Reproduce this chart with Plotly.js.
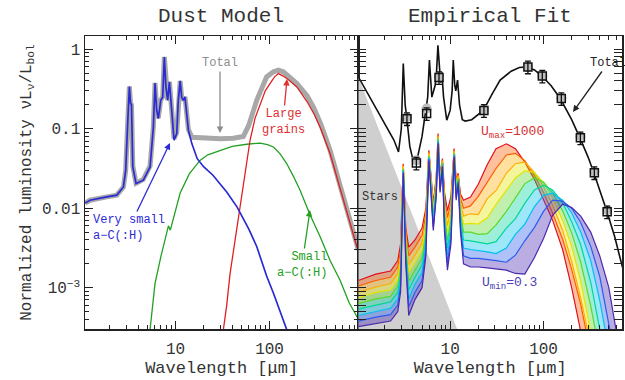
<!DOCTYPE html>
<html><head><meta charset="utf-8">
<script src="https://cdn.plot.ly/plotly-3.0.1.min.js"></script>
<style>html,body{margin:0;padding:0;background:#fff}#chart{width:625px;height:380px}</style>
</head><body><div id="chart"></div>
<script>
// ===== Left panel: Dust Model (wavelength in micron, normalized luminosity) =====
const TOTAL_WAVE = [1.09, 1.23, 1.8, 2.37, 2.79, 2.95, 3.1, 3.23, 3.32, 3.4, 3.51, 3.8, 4.54, 5.36, 5.81, 6.05, 6.3, 6.56, 6.96, 7.3, 7.6, 7.9, 8.25, 8.6, 9.1, 9.64, 10.3, 10.7, 11.2, 11.6, 12.1, 12.6, 13.7, 14.9, 20, 30, 41, 52.6, 60, 73, 93, 110, 124, 140, 195, 250, 292, 350, 440, 560, 662, 847, 880];
const TOTAL_LUM = [0.0116, 0.0126, 0.0138, 0.0146, 0.0185, 0.03, 0.12, 0.34, 0.21, 0.2, 0.034, 0.0206, 0.023, 0.034, 0.106, 0.378, 0.173, 0.136, 0.23, 0.252, 0.8, 0.337, 0.23, 0.39, 0.174, 0.075, 0.09, 0.23, 0.4, 0.252, 0.23, 0.252, 0.098, 0.078, 0.076, 0.075, 0.076, 0.08, 0.11, 0.228, 0.449, 0.52, 0.545, 0.52, 0.37, 0.26, 0.188, 0.115, 0.0537, 0.02, 0.0104, 0.0036, 0.003];

const VSG_WAVE = [1.09, 1.23, 1.8, 2.37, 2.79, 2.95, 3.1, 3.23, 3.32, 3.4, 3.51, 3.8, 4.54, 5.36, 5.81, 6.05, 6.3, 6.56, 6.96, 7.3, 7.6, 7.9, 8.25, 8.6, 9.1, 9.64, 10.3, 10.7, 11.2, 11.6, 12.1, 12.6, 13.7, 14.9, 17, 20, 25, 35, 45, 60, 73, 93, 110, 130, 155];
const VSG_LUM = [0.0116, 0.0126, 0.0138, 0.0146, 0.0185, 0.03, 0.12, 0.34, 0.21, 0.2, 0.033, 0.0204, 0.0225, 0.033, 0.105, 0.377, 0.171, 0.134, 0.228, 0.25, 0.8, 0.335, 0.228, 0.388, 0.171, 0.0716, 0.087, 0.228, 0.4, 0.25, 0.228, 0.25, 0.096, 0.065, 0.042, 0.033, 0.026, 0.016, 0.0104, 0.0055, 0.0033, 0.0014, 0.00085, 0.00048, 0.00028];

const SG_WAVE = [5.36, 6.05, 7.0, 8.06, 8.4, 8.8, 9.5, 11.2, 14, 18.2, 22, 29.7, 40, 57.2, 79.3, 95, 110, 130, 152, 180, 211, 270, 344, 440, 562, 700, 847, 880];
const SG_LUM = [0.0003, 0.00113, 0.0025, 0.0048, 0.006, 0.0053, 0.0075, 0.0155, 0.027, 0.04, 0.047, 0.0537, 0.06, 0.0638, 0.066, 0.063, 0.059, 0.048, 0.0365, 0.025, 0.0168, 0.0082, 0.0044, 0.0022, 0.00124, 0.00065, 0.00043, 0.0004];

const LG_WAVE = [32.3, 35, 38, 43, 48.5, 55, 62, 70, 79.3, 90, 101, 113, 124, 140, 160, 195, 250, 300, 350, 440, 560, 700, 847, 880];
const LG_LUM = [0.0003, 0.0006, 0.0015, 0.004, 0.0104, 0.03, 0.0716, 0.135, 0.207, 0.3, 0.37, 0.45, 0.494, 0.46, 0.41, 0.336, 0.22, 0.15, 0.1, 0.0487, 0.018, 0.0075, 0.0033, 0.0028];

// ===== Right panel: Empirical Fit =====
const STAR_WAVE = [1.04, 11.9, 11.9, 1.04];
const STAR_LUM = [0.449, 3.0e-4, 1e-4, 1e-4];

const FIT_WAVE = [1.04, 1.5, 2.0, 2.5, 2.8, 3.0, 3.15, 3.3, 3.45, 3.7, 4.05, 4.5, 5.0, 5.5, 5.75, 6.0, 6.2, 6.37, 6.9, 7.1, 7.4, 7.7, 7.9, 8.15, 8.5, 9.2, 10.0, 10.5, 10.8, 11.2, 11.5, 12.0, 12.6, 13.5, 14.5, 17, 20, 22.7, 28, 34.3, 45, 55, 66, 80, 96, 120, 151, 200, 247, 300, 349, 400, 478, 580, 700];
const FIT_LUM = [0.45, 0.21, 0.114, 0.072, 0.051, 0.1, 0.66, 0.2, 0.13, 0.06, 0.038, 0.045, 0.08, 0.17, 0.25, 0.73, 0.35, 0.25, 0.35, 0.45, 1.12, 0.45, 0.38, 0.52, 0.25, 0.128, 0.17, 0.3, 0.73, 0.35, 0.3, 0.41, 0.2, 0.13, 0.125, 0.13, 0.15, 0.17, 0.27, 0.41, 0.53, 0.59, 0.6, 0.55, 0.46, 0.35, 0.24, 0.13, 0.075, 0.044, 0.027, 0.017, 0.009, 0.0043, 0.0018];

const PHOT_WAVE = [3.45, 4.35, 5.6, 7.6, 23, 68, 97, 155, 248, 350, 480];
const PHOT_LUM = [0.134, 0.037, 0.155, 0.44, 0.17, 0.6, 0.46, 0.24, 0.077, 0.028, 0.009];
const MODEL_PHOT_LUM = [0.14, 0.04, 0.18, 0.45, 0.175, 0.6, 0.46, 0.24, 0.08, 0.029, 0.0095];

// Rainbow: radiation-field components, U_max=1000 (RB_0, red) ... U_min=0.3 (RB_8, violet)
const RB_WAVE = [1.04, 1.6, 2.3, 2.75, 2.95, 3.15, 3.35, 3.6, 4.2, 5.0, 5.5, 5.92, 6.6, 7.1, 7.43, 7.8, 8.27, 8.7, 9.35, 10.2, 11.04, 11.6, 12.2, 12.9, 13.9, 16.5, 20, 25, 31, 40, 50, 63, 80, 100, 125, 160, 200, 250, 320, 400, 500, 620, 700];
const RB_0 = [1.23e-3, 1.48e-3, 1.62e-3, 2.19e-3, 3.55e-3, 3.63e-2, 5.62e-3, 3.24e-3, 3.98e-3, 5.62e-3, 1.0e-2, 5.37e-2, 1.15e-2, 2.51e-2, 8.71e-2, 2.51e-2, 4.22e-2, 1.58e-2, 9.33e-3, 1.41e-2, 5.62e-2, 2.24e-2, 2.75e-2, 1.51e-2, 1.26e-2, 1.38e-2, 2.0e-2, 3.55e-2, 5.62e-2, 6.46e-2, 5.62e-2, 3.8e-2, 2.29e-2, 1.26e-2, 7.08e-3, 3.02e-3, 1.0e-3, 2.82e-4, 7.94e-5, 2.0e-5, 5.0e-6, 1.26e-6, 6.3e-7];
const RB_1 = [1.05e-3, 1.23e-3, 1.35e-3, 1.82e-3, 2.95e-3, 3.51e-2, 4.9e-3, 2.51e-3, 3.24e-3, 4.57e-3, 8.32e-3, 5.13e-2, 1.05e-2, 2.34e-2, 8.32e-2, 2.34e-2, 4.07e-2, 1.38e-2, 7.59e-3, 1.17e-2, 5.5e-2, 2.09e-2, 2.63e-2, 1.32e-2, 1.0e-2, 1.07e-2, 1.41e-2, 2.09e-2, 3.16e-2, 4.68e-2, 4.9e-2, 3.98e-2, 2.57e-2, 1.58e-2, 8.71e-3, 4.07e-3, 1.7e-3, 6.17e-4, 1.7e-4, 5.0e-5, 1.26e-5, 3.16e-6, 1.58e-6];
const RB_2 = [8.71e-4, 1.02e-3, 1.12e-3, 1.51e-3, 2.51e-3, 3.39e-2, 4.37e-3, 1.95e-3, 2.57e-3, 3.63e-3, 7.08e-3, 5.01e-2, 9.33e-3, 2.19e-2, 8.13e-2, 2.24e-2, 3.98e-2, 1.17e-2, 6.03e-3, 1.0e-2, 5.25e-2, 1.95e-2, 2.57e-2, 1.15e-2, 7.94e-3, 8.51e-3, 8.32e-3, 1.32e-2, 1.66e-2, 2.75e-2, 3.63e-2, 3.8e-2, 2.82e-2, 1.86e-2, 1.1e-2, 5.25e-3, 2.14e-3, 7.41e-4, 1.95e-4, 5.0e-5, 1.26e-5, 3.16e-6, 1.58e-6];
const RB_3 = [7.41e-4, 8.71e-4, 9.33e-4, 1.26e-3, 2.09e-3, 3.27e-2, 3.8e-3, 1.55e-3, 2.09e-3, 2.95e-3, 5.89e-3, 4.79e-2, 8.51e-3, 2.04e-2, 7.76e-2, 2.09e-2, 3.89e-2, 1.02e-2, 4.9e-3, 8.32e-3, 5.13e-2, 1.82e-2, 2.45e-2, 1.0e-2, 6.31e-3, 6.46e-3, 6.31e-3, 7.59e-3, 1.12e-2, 1.66e-2, 2.4e-2, 2.95e-2, 2.82e-2, 2.09e-2, 1.35e-2, 7.08e-3, 3.31e-3, 1.2e-3, 3.24e-4, 8.51e-5, 2.0e-5, 5.0e-6, 2.51e-6];
const RB_4 = [6.31e-4, 7.24e-4, 7.76e-4, 1.05e-3, 1.78e-3, 3.16e-2, 3.39e-3, 1.2e-3, 1.66e-3, 2.34e-3, 5.01e-3, 4.57e-2, 7.76e-3, 1.91e-2, 7.59e-2, 2.0e-2, 3.72e-2, 8.91e-3, 3.89e-3, 7.08e-3, 5.01e-2, 1.66e-2, 2.4e-2, 8.71e-3, 5.01e-3, 5.01e-3, 4.68e-3, 4.79e-3, 6.17e-3, 9.12e-3, 1.35e-2, 2.04e-2, 2.4e-2, 2.14e-2, 1.55e-2, 9.33e-3, 4.9e-3, 2.09e-3, 5.89e-4, 1.58e-4, 3.98e-5, 1.0e-5, 5.0e-6];
const RB_5 = [5.37e-4, 6.03e-4, 6.61e-4, 8.71e-4, 1.48e-3, 3.05e-2, 2.95e-3, 9.33e-4, 1.35e-3, 1.91e-3, 4.17e-3, 4.47e-2, 7.08e-3, 1.74e-2, 7.24e-2, 1.86e-2, 3.63e-2, 7.76e-3, 3.16e-3, 5.89e-3, 4.79e-2, 1.55e-2, 2.29e-2, 7.59e-3, 3.98e-3, 3.89e-3, 3.72e-3, 3.55e-3, 3.8e-3, 5.62e-3, 7.41e-3, 1.15e-2, 1.7e-2, 1.95e-2, 1.7e-2, 1.17e-2, 6.76e-3, 3.47e-3, 1.17e-3, 3.24e-4, 7.59e-5, 2.0e-5, 1.0e-5];
const RB_6 = [4.47e-4, 5.01e-4, 5.5e-4, 7.24e-4, 1.26e-3, 2.95e-2, 2.57e-3, 7.24e-4, 1.1e-3, 1.55e-3, 3.55e-3, 4.27e-2, 6.31e-3, 1.62e-2, 6.92e-2, 1.78e-2, 3.55e-2, 6.61e-3, 2.57e-3, 5.01e-3, 4.68e-2, 1.45e-2, 2.19e-2, 6.61e-3, 3.16e-3, 3.02e-3, 2.95e-3, 2.82e-3, 2.69e-3, 3.16e-3, 4.68e-3, 6.31e-3, 1.05e-2, 1.45e-2, 1.55e-2, 1.26e-2, 8.71e-3, 5.01e-3, 2.19e-3, 6.92e-4, 1.66e-4, 3.16e-5, 1.26e-5];
const RB_7 = [3.8e-4, 4.27e-4, 4.57e-4, 6.03e-4, 1.05e-3, 2.85e-2, 2.29e-3, 5.75e-4, 8.71e-4, 1.23e-3, 2.95e-3, 4.17e-2, 5.75e-3, 1.51e-2, 6.76e-2, 1.66e-2, 3.39e-2, 5.75e-3, 2.04e-3, 4.17e-3, 4.57e-2, 1.35e-2, 2.14e-2, 5.75e-3, 2.51e-3, 2.34e-3, 2.34e-3, 2.24e-3, 2.19e-3, 2.09e-3, 2.57e-3, 3.89e-3, 5.75e-3, 9.12e-3, 1.26e-2, 1.23e-2, 1.0e-2, 6.61e-3, 3.31e-3, 1.38e-3, 3.8e-4, 9.12e-5, 3.72e-5];
const RB_8 = [3.24e-4, 3.55e-4, 3.8e-4, 5.01e-4, 8.91e-4, 2.75e-2, 2.0e-3, 4.47e-4, 7.08e-4, 1.0e-3, 2.51e-3, 3.98e-2, 5.25e-3, 1.41e-2, 6.46e-2, 1.58e-2, 3.31e-2, 5.01e-3, 1.66e-3, 3.55e-3, 4.42e-2, 1.26e-2, 2.04e-2, 5.01e-3, 2.0e-3, 1.82e-3, 1.82e-3, 1.78e-3, 1.74e-3, 1.66e-3, 1.51e-3, 1.48e-3, 2.4e-3, 4.17e-3, 8.13e-3, 1.12e-2, 1.02e-2, 7.94e-3, 5.01e-3, 2.51e-3, 1.0e-3, 2.51e-4, 1.0e-4];

const RB_SERIES = [RB_0, RB_1, RB_2, RB_3, RB_4, RB_5, RB_6, RB_7, RB_8];
const RB_COLORS = ['#e0101e', '#ff5a00', '#ffae00', '#e4e400', '#5cd82a', '#00d69a', '#00bff0', '#2a5cf0', '#4a28b0'];

// ===== styling =====
const FONT = '"Liberation Mono", "Courier New", monospace';
const TXT = '#333';
const AX = '#222';

function hexA(h, a) {
  const r = parseInt(h.slice(1, 3), 16), g = parseInt(h.slice(3, 5), 16), b = parseInt(h.slice(5, 7), 16);
  return `rgba(${r},${g},${b},${a})`;
}

const traces = [];
const L = {xaxis: 'x', yaxis: 'y', mode: 'lines', hoverinfo: 'skip', showlegend: false};
const R = {xaxis: 'x2', yaxis: 'y', mode: 'lines', hoverinfo: 'skip', showlegend: false};

traces.push(Object.assign({x: TOTAL_WAVE, y: TOTAL_LUM, line: {color: '#a8a8a8', width: 5}}, L));
traces.push(Object.assign({x: SG_WAVE, y: SG_LUM, line: {color: '#22a022', width: 1.3}}, L));
traces.push(Object.assign({x: LG_WAVE, y: LG_LUM, line: {color: '#e02020', width: 1.3}}, L));
traces.push(Object.assign({x: VSG_WAVE, y: VSG_LUM, line: {color: '#2b2bd6', width: 1.7}}, L));

traces.push(Object.assign({x: STAR_WAVE, y: STAR_LUM, fill: 'toself', fillcolor: '#cfcfcf', line: {color: 'rgba(0,0,0,0)', width: 0}}, R));
RB_SERIES.forEach((arr, i) => {
  traces.push(Object.assign({
    x: RB_WAVE, y: arr,
    line: {color: RB_COLORS[i], width: 1.2},
    fill: i === 0 ? 'none' : 'tonexty',
    fillcolor: hexA(RB_COLORS[i], 0.38)
  }, R));
});
traces.push(Object.assign({x: FIT_WAVE, y: FIT_LUM, line: {color: '#111', width: 1.6}}, R));
traces.push({x: PHOT_WAVE, y: MODEL_PHOT_LUM, xaxis: 'x2', yaxis: 'y', mode: 'markers', hoverinfo: 'skip', showlegend: false,
  marker: {symbol: 'circle', size: 10, color: '#bdbdbd'}});
traces.push({x: PHOT_WAVE, y: PHOT_LUM, xaxis: 'x2', yaxis: 'y', mode: 'markers', hoverinfo: 'skip', showlegend: false,
  marker: {symbol: 'square-open', size: 8, color: '#111', line: {width: 1.5}},
  error_y: {type: 'percent', value: 18, color: '#111', thickness: 1.3, width: 3}});

const minorX = [];
[1, 10, 100].forEach(d => { for (let k = 2; k <= 9; k++) minorX.push(k * d); });
const minorY = [];
[1e-4, 1e-3, 1e-2, 1e-1, 1].forEach(d => { for (let k = 2; k <= 9; k++) minorY.push(k * d); });

function xAxis(domain, range) {
  return {
    type: 'log', domain: domain, range: range, anchor: 'y',
    tickmode: 'array', tickvals: [10, 100], ticktext: ['10', '100'],
    ticks: 'inside', ticklen: 8, tickwidth: 1.2, tickcolor: AX,
    showline: true, linecolor: AX, linewidth: 1.5, mirror: 'allticks',
    showgrid: false, zeroline: false, ticklabelstandoff: 4,
    tickfont: {size: 16, color: TXT, family: FONT},
    minor: {tickmode: 'array', tickvals: minorX, ticks: 'inside', ticklen: 4, tickwidth: 1, tickcolor: AX, showgrid: false},
    title: {text: 'Wavelength [μm]', font: {size: 17, color: TXT, family: FONT}, standoff: 2}
  };
}

const P = (px, py) => ({x: (px - 85) / 537, y: (329 - py) / 293});
function ann(px, py, text, size, color) {
  const p = P(px, py);
  return {xref: 'paper', yref: 'paper', x: p.x, y: p.y, xanchor: 'center', yanchor: 'middle',
    text: text, showarrow: false, font: {family: FONT, size: size, color: color}};
}
function arrowAnn(hx, hy, ax, ay, text, color, align) {
  const p = P(hx, hy);
  return {xref: 'paper', yref: 'paper', x: p.x, y: p.y, ax: ax, ay: ay, text: text, showarrow: true,
    xanchor: 'center', yanchor: 'middle',
    arrowhead: 2, arrowsize: 1, arrowwidth: 1.3, arrowcolor: color, align: align || 'center',
    font: {family: FONT, size: 12, color: color}};
}

const layout = {
  width: 625, height: 380,
  margin: {l: 85, r: 3, t: 36, b: 51},
  paper_bgcolor: '#fff', plot_bgcolor: '#fff', showlegend: false,
  font: {family: FONT, color: TXT, size: 16},
  xaxis: xAxis([0, 0.509], [0.037, 2.944]),
  xaxis2: xAxis([0.509, 1], [0.017, 2.84]),
  yaxis: {
    type: 'log', range: [-3.52, 0.167], anchor: 'x',
    tickmode: 'array', tickvals: [0.001, 0.01, 0.1, 1], ticktext: ['10<sup>−3</sup>', '0.01', '0.1', '1'],
    ticks: 'inside', ticklen: 8, tickwidth: 1.2, tickcolor: AX,
    showline: true, linecolor: AX, linewidth: 1.5, mirror: 'allticks',
    showgrid: false, zeroline: false,
    tickfont: {size: 16, color: TXT, family: FONT},
    minor: {tickmode: 'array', tickvals: minorY, ticks: 'inside', ticklen: 4, tickwidth: 1, tickcolor: AX, showgrid: false},
    title: {text: 'Normalized luminosity νL<sub>ν</sub>/L<sub>bol</sub>', font: {size: 16, color: TXT, family: FONT}, standoff: 6}
  },
  annotations: [
    ann(221, 17, 'Dust Model', 21, TXT),
    ann(490, 17, 'Empirical Fit', 21, TXT),
    arrowAnn(220, 133, 0, -70, 'Total', '#8c8c8c'),
    arrowAnn(287, 79, -4, 43, 'Large<br>grains', '#e03030'),
    arrowAnn(310, 210, -8, 55, 'Small<br>a−C(:H)', '#22a022', 'right'),
    arrowAnn(170, 143, -41, 85, 'Very small<br>a−C(:H)', '#2b2bd6', 'left'),
    arrowAnn(573, 112, 35, -49, 'Total', '#222'),
    ann(380, 197, 'Stars', 12, '#333'),
    ann(512, 132, 'U<sub>max</sub>=1000', 13, '#d83030'),
    ann(509, 283, 'U<sub>min</sub>=0.3', 13, '#4a3cb8')
  ]
};

Plotly.newPlot('chart', traces, layout, {staticPlot: true, displayModeBar: false});
</script>
</body></html>
